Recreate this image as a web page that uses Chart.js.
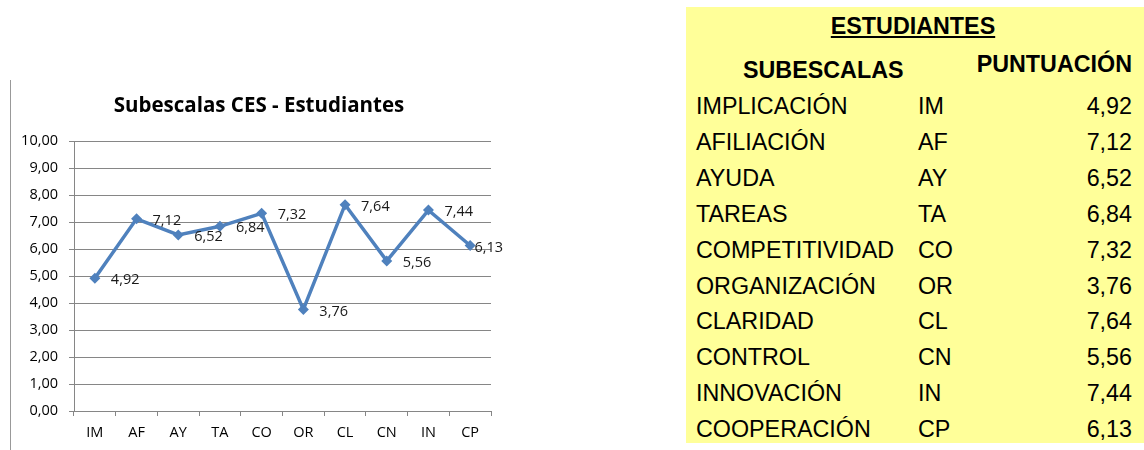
<!DOCTYPE html>
<html>
<head>
<meta charset="utf-8">
<script src="https://cdn.jsdelivr.net/npm/chart.js@4.4.0/dist/chart.umd.min.js"></script>
<style>
  body { margin: 0; background: #fff; width: 1144px; height: 450px; overflow: hidden; position: relative; }
  #chartBox { position: absolute; left: 0; top: 0; width: 520px; height: 450px; }
  #frameLine { position: absolute; left: 10px; top: 80px; width: 1px; height: 370px; background: #999; }
  #table { position: absolute; left: 686px; top: 7px; width: 458px; height: 436px; background: #ffff99;
           font-family: "Liberation Sans", Arial, sans-serif; font-size: 23.3px; color: #000; }
  #table div { position: absolute; line-height: 23px; white-space: nowrap; }
  .hdr { font-weight: bold; }
</style>
</head>
<body>
<div id="frameLine"></div>
<div id="chartBox"><canvas id="chart" width="520" height="450"></canvas></div>
<div id="table"></div>

<script>
// data
var categories = ['IM', 'AF', 'AY', 'TA', 'CO', 'OR', 'CL', 'CN', 'IN', 'CP'];
var subscaleNames = ['IMPLICACIÓN', 'AFILIACIÓN', 'AYUDA', 'TAREAS', 'COMPETITIVIDAD',
                     'ORGANIZACIÓN', 'CLARIDAD', 'CONTROL', 'INNOVACIÓN', 'COOPERACIÓN'];
var scores = [4.92, 7.12, 6.52, 6.84, 7.32, 3.76, 7.64, 5.56, 7.44, 6.13];
var yTicks = [0, 1, 2, 3, 4, 5, 6, 7, 8, 9, 10];

function fmt(v) {
  return v.toFixed(2).replace('.', ',');
}

// table on the right
function buildTable() {
  var t = document.getElementById('table');
  var html = '';
  html += '<div class="hdr" style="left:0;width:454px;text-align:center;top:8px;"><span style="text-decoration:underline">ESTUDIANTES</span></div>';
  html += '<div class="hdr" style="left:57px;top:52px;">SUBESCALAS</div>';
  html += '<div class="hdr" style="right:12px;top:46px;">PUNTUACIÓN</div>';
  for (var i = 0; i < categories.length; i++) {
    var top = 88 + i * 35.9;
    html += '<div style="left:10px;top:' + top + 'px;">' + subscaleNames[i] + '</div>';
    html += '<div style="left:232px;top:' + top + 'px;">' + categories[i] + '</div>';
    html += '<div style="right:12px;top:' + top + 'px;">' + fmt(scores[i]) + '</div>';
  }
  t.innerHTML = html;
}

// value labels to the right of each point, kept inside the canvas
var pointLabels = {
  id: 'pointLabels',
  afterLayout: function(chart) {
    // nudge title a little right, like the original
    if (chart.titleBlock) {
      chart.titleBlock.left += 5;
      chart.titleBlock.right += 5;
    }
  },
  afterDatasetsDraw: function(chart) {
    var ctx = chart.ctx;
    var meta = chart.getDatasetMeta(0);
    ctx.save();
    ctx.font = '14.5px "Open Sans"';
    ctx.fillStyle = '#1a1a1a';
    ctx.textAlign = 'left';
    ctx.textBaseline = 'middle';
    meta.data.forEach(function(pt, i) {
      var txt = fmt(scores[i]);
      var w = ctx.measureText(txt).width;
      var x = pt.x + 16;
      var maxX = chart.width - 17;
      if (x + w > maxX) x = maxX - w;
      ctx.fillText(txt, x, pt.y + 2);
    });
    ctx.restore();
  }
};

function drawChart() {
  var ctx = document.getElementById('chart').getContext('2d');
  new Chart(ctx, {
    type: 'line',
    data: {
      labels: categories,
      datasets: [{
        label: 'Estudiantes',
        data: scores,
        borderColor: '#4f81bd',
        backgroundColor: '#4f81bd',
        borderWidth: 3.5,
        pointStyle: 'rectRot',
        pointRadius: 5.5,
        pointBorderWidth: 0,
        pointBackgroundColor: '#4f81bd',
        tension: 0,
        fill: false
      }]
    },
    options: {
      responsive: false,
      animation: false,
      layout: { padding: { left: 17, right: 29, top: 94, bottom: 0 } },
      plugins: {
        legend: { display: false },
        tooltip: { enabled: false },
        title: {
          display: true,
          text: 'Subescalas CES - Estudiantes',
          color: '#000',
          font: { family: 'Open Sans', size: 20.5, weight: 'bold' },
          padding: { top: 0, bottom: 22.4 }
        }
      },
      scales: {
        x: {
          offset: true,
          grid: { offset: true, drawOnChartArea: false, color: '#868686', tickLength: 5 },
          border: { color: '#868686' },
          ticks: { color: '#000', font: { family: 'Open Sans', size: 14.5 }, padding: 8, maxRotation: 0 },
          afterFit: function(s) { s.height = 39; }
        },
        y: {
          min: yTicks[0],
          max: yTicks[yTicks.length - 1],
          afterBuildTicks: function(s) { s.ticks = yTicks.map(function(v) { return { value: v }; }); },
          grid: { color: '#868686', tickLength: 5 },
          border: { color: '#868686' },
          ticks: {
            color: '#000',
            font: { family: 'Open Sans', size: 14.5 },
            padding: 11,
            callback: function(v) { return fmt(v); }
          },
          afterFit: function(s) { s.width = 57; }
        }
      }
    },
    plugins: [pointLabels]
  });
}

buildTable();
drawChart();
</script>
</body>
</html>
